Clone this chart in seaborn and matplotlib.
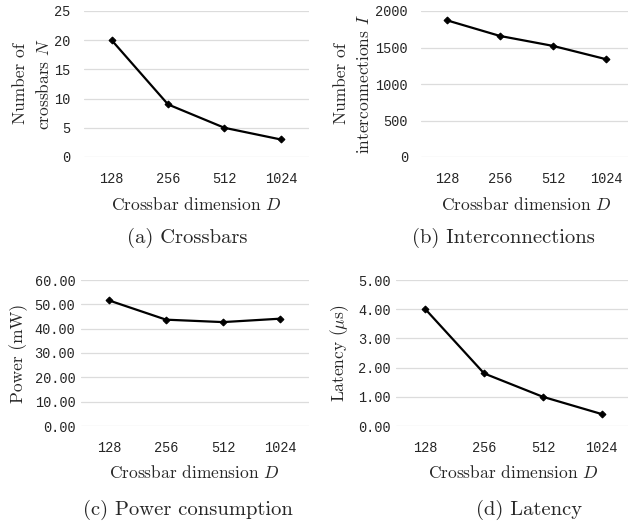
import matplotlib
matplotlib.use("Agg")
import matplotlib.pyplot as plt
import seaborn as sns

# crossbar dimension (categorical x axis)
dims = ["128", "256", "512", "1024"]

crossbars = [20, 9, 5, 3]
interconnections = [1872, 1658, 1522, 1340]
power_mw = [51.6, 43.7, 42.7, 44.1]
latency_us = [4.00, 1.80, 1.00, 0.41]

W, H = 628, 523

sns.set_theme(style="white")
plt.rcParams["mathtext.fontset"] = "cm"
plt.rcParams["axes.unicode_minus"] = False

LABEL_FONT = ["cmr10", "DejaVu Serif"]
TICK_FONT = "Liberation Mono"

fig = plt.figure(figsize=(W / 100, H / 100), dpi=100)


def add_panel(px_left, px_right, px_top, px_bottom, values, ymax, ystep, fmt,
              ypad, ylabel, ylabel_x, caption, caption_x, xlabel_y, caption_y):
    ax = fig.add_axes([px_left / W, 1 - px_bottom / H,
                       (px_right - px_left) / W, (px_bottom - px_top) / H])
    sns.lineplot(x=dims, y=values, ax=ax, color="black", linewidth=1.6,
                 marker="D", markersize=3.5, markeredgecolor="black")
    ax.set_xlim(-0.5, 3.5)
    ax.set_ylim(0, ymax)
    ticks = [i * ystep for i in range(int(round(ymax / ystep)) + 1)]
    ax.set_yticks(ticks)
    ax.set_yticklabels([fmt.format(t) for t in ticks])
    ax.grid(axis="y", color="#dcdcdc", linewidth=0.9)
    ax.set_axisbelow(True)
    for s in ax.spines.values():
        s.set_visible(False)
    ax.tick_params(axis="both", length=0, labelsize=9.8)
    ax.tick_params(axis="x", pad=11)
    ax.tick_params(axis="y", pad=ypad)
    for lab in ax.get_xticklabels() + ax.get_yticklabels():
        lab.set_fontfamily(TICK_FONT)
        lab.set_color("#262626")
    ax.set_xlabel("")
    ax.set_ylabel("")

    # x label centred on the visible part of the plot area
    cx = (px_left + px_right) / 2
    fig.text(cx / W, 1 - xlabel_y / H, r"Crossbar dimension $D$",
             family=LABEL_FONT, fontsize=12.5, ha="center", va="center")
    fig.text(caption_x / W, 1 - caption_y / H, caption,
             family=LABEL_FONT, fontsize=14.8, ha="center", va="center")
    cy = (px_top + px_bottom) / 2
    fig.text(ylabel_x / W, 1 - cy / H, ylabel, family=LABEL_FONT,
             fontsize=12.5, rotation=90, ha="center", va="center",
             linespacing=1.5)
    return ax


add_panel(83.5, 309, 11, 157, crossbars, 25, 5, "{:.0f}", 9.5,
          "Number of\ncrossbars $N$", 32, "(a) Crossbars", 187, 204, 238)
add_panel(420.5, 632.5, 11, 157, interconnections, 2000, 500, "{:.0f}", 9,
          "Number of\ninterconnections $I$", 353, "(b) Interconnections",
          503, 204, 238)
add_panel(80.5, 308.5, 280, 426, power_mw, 60, 10, "{:.2f}", 3.8,
          "Power (mW)", 19, "(c) Power consumption", 188, 473, 510)
add_panel(396, 631, 280, 426, latency_us, 5, 1, "{:.2f}", 3.8,
          r"Latency ($\mu$s)", 340, "(d) Latency", 529, 473, 510)

fig.savefig("out.png", dpi=100, facecolor="white")
